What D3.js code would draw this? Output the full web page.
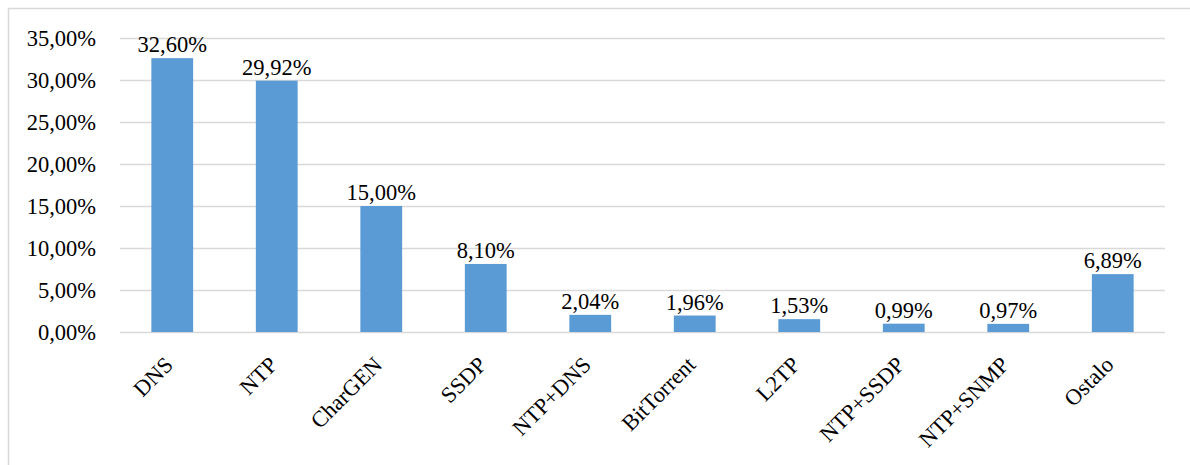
<!DOCTYPE html>
<html>
<head>
<meta charset="utf-8">
<script src="https://cdn.jsdelivr.net/npm/d3@7"></script>
<style>
  html, body { margin: 0; padding: 0; background: #fff; }
  svg { display: block; }
  text { font-family: "Liberation Serif", "Times New Roman", serif; fill: #000; }
</style>
</head>
<body>
<svg id="chart" width="1190" height="465"></svg>
<script>
// Attack types and their share of traffic (%)
const categories = ["DNS", "NTP", "CharGEN", "SSDP", "NTP+DNS", "BitTorrent", "L2TP", "NTP+SSDP", "NTP+SNMP", "Ostalo"];
const shares = [32.60, 29.92, 15.00, 8.10, 2.04, 1.96, 1.53, 0.99, 0.97, 6.89];
const yTicks = [0, 5, 10, 15, 20, 25, 30, 35];

const svg = d3.select("#chart");
const W = 1190, H = 465;
const margin = { left: 120, right: 25, top: 38, bottom: 133 };
const plotW = W - margin.left - margin.right;
const plotH = H - margin.top - margin.bottom;

const fmt = v => v.toFixed(2).replace(".", ",") + "%";

// outer frame
svg.append("rect")
  .attr("x", 8.5).attr("y", 8.5)
  .attr("width", W + 10).attr("height", H + 10)
  .attr("fill", "none").attr("stroke", "#d9d9d9").attr("stroke-width", 1.5);

const g = svg.append("g").attr("transform", `translate(${margin.left},${margin.top})`);

const x = d3.scaleBand().domain(categories).range([0, plotW]).paddingInner(0.6).paddingOuter(0.3);
const y = d3.scaleLinear().domain([0, 35]).range([plotH, 0]);

// gridlines and value axis
const yAxis = g.append("g")
  .call(d3.axisLeft(y).tickValues(yTicks).tickSize(-plotW).tickFormat(fmt));
yAxis.select(".domain").remove();
yAxis.selectAll(".tick line").attr("stroke", "#d9d9d9").attr("stroke-width", 1.5);
yAxis.selectAll(".tick text")
  .attr("x", -24).attr("dy", "0.34em")
  .style("font-size", "22.5px");

// bars
g.selectAll("rect.bar")
  .data(categories)
  .join("rect")
  .attr("class", "bar")
  .attr("x", d => x(d))
  .attr("width", x.bandwidth())
  .attr("y", (d, i) => y(shares[i]))
  .attr("height", (d, i) => y(0) - y(shares[i]))
  .attr("fill", "#5b9bd5");

// value labels
g.selectAll("text.val")
  .data(categories)
  .join("text")
  .attr("class", "val")
  .attr("x", d => x(d) + x.bandwidth() / 2)
  .attr("y", (d, i) => y(shares[i]) - 6)
  .attr("text-anchor", "middle")
  .style("font-size", "22.5px")
  .text((d, i) => fmt(shares[i]));

// category axis
const xAxis = g.append("g")
  .attr("transform", `translate(0,${plotH})`)
  .call(d3.axisBottom(x).tickSize(0));
xAxis.select(".domain").remove();
xAxis.selectAll(".tick text")
  .attr("text-anchor", "end")
  .attr("transform", "translate(-9,23) rotate(-45)")
  .attr("dy", "0.7em")
  .attr("y", 0)
  .style("font-size", "22.5px");
</script>
</body>
</html>
